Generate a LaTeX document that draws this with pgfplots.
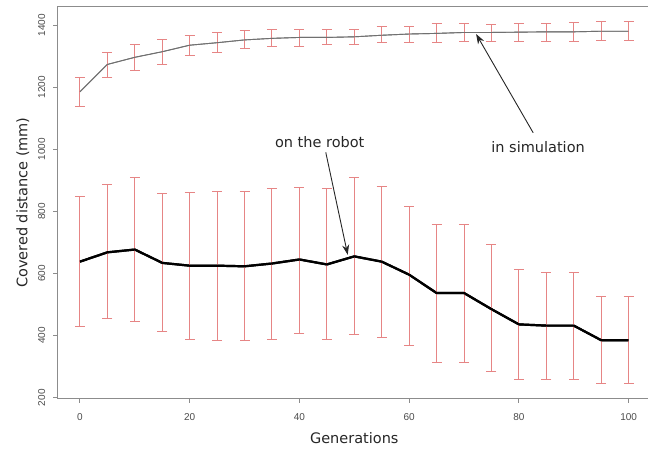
\documentclass[border=0pt]{standalone}
\usepackage{pgfplots}
\pgfplotsset{compat=1.18}
\usepackage{pgfplotstable}
\usepackage{fontspec}
\setmainfont{DejaVu Sans}
\newfontfamily\tickfont{Liberation Sans}
\usetikzlibrary{arrows.meta}

\definecolor{errred}{HTML}{E68585}
\definecolor{simgray}{HTML}{707070}
\definecolor{framegray}{HTML}{8C8C8C}

% generation, mean, upper end, lower end of the bar
\pgfplotstableread{
x    y     top   bot
0    1185  1230  1137
5    1273  1312  1230
10   1296  1337  1254
15   1314  1354  1274
20   1335  1367  1303
25   1343  1375  1311
30   1352  1381  1325
35   1357  1386  1330
40   1360  1386  1332
45   1360  1386  1336
50   1362  1387  1336
55   1367  1394  1343
60   1371  1396  1343
65   1373  1405  1345
70   1376  1405  1346
75   1376  1403  1346
80   1377  1405  1348
85   1378  1405  1348
90   1378  1408  1348
95   1380  1410  1351
100  1380  1410  1351
}\simdata

\pgfplotstableread{
x    y    top  bot
0    638  848  430
5    668  885  455
10   677  910  445
15   634  859  413
20   625  862  387
25   625  863  385
30   623  863  384
35   632  873  387
40   645  876  407
45   629  872  387
50   655  908  404
55   638  880  395
60   596  815  368
65   537  759  314
70   537  759  314
75   485  692  285
80   436  612  259
85   432  602  259
90   432  602  259
95   385  527  246
100  385  527  246
}\robotdata

\begin{document}
\begin{tikzpicture}
\begin{axis}[
    scale only axis,
    width=592.6pt, height=391.3pt,
    xmin=-4, xmax=104,
    ymin=198, ymax=1458,
    xtick={0,20,...,100},
    ytick={200,400,...,1400},
    tick pos=left,
    tick align=outside,
    major tick length=4.5pt,
    axis line style={framegray, line width=1pt},
    tick style={framegray, line width=1pt},
    /pgf/number format/assume math mode=true,
    /pgf/number format/1000 sep={},
    tick label style={font=\tickfont\fontsize{10}{11}\selectfont, text=black!70},
    yticklabel style={rotate=90, anchor=south, inner sep=0pt},
    yticklabel shift=8pt,
    xticklabel style={anchor=north, inner sep=0pt},
    xticklabel shift=11pt,
    xlabel={Generations},
    ylabel={Covered distance (mm)},
    label style={font=\fontsize{14.5}{16}\selectfont, text=black!85},
    xlabel style={at={(axis description cs:0.5,-0.088)}, anchor=north, inner sep=0pt},
    ylabel style={at={(axis description cs:-0.048,0.5)}, anchor=south, inner sep=0pt},
    clip=false,
]
% simulation
\addplot[simgray, line width=0.9pt, mark=none,
    error bars/.cd, y dir=both, y explicit,
    error bar style={errred, line width=1pt},
    error mark options={errred, line width=1pt, mark size=5pt, rotate=90}]
  table[x=x, y=y, y error plus expr=\thisrow{top}-\thisrow{y},
        y error minus expr=\thisrow{y}-\thisrow{bot}] {\simdata};
\addplot[simgray, line width=0.9pt, mark=none] table[x=x, y=y] {\simdata};
% real robot
\addplot[black, line width=2.2pt, mark=none,
    error bars/.cd, y dir=both, y explicit,
    error bar style={errred, line width=1pt},
    error mark options={errred, line width=1pt, mark size=5pt, rotate=90}]
  table[x=x, y=y, y error plus expr=\thisrow{top}-\thisrow{y},
        y error minus expr=\thisrow{y}-\thisrow{bot}] {\robotdata};
\addplot[black, line width=2.2pt, mark=none] table[x=x, y=y] {\robotdata};

\node[font=\fontsize{14.5}{16}\selectfont, text=black!85] at (axis cs:43.7,1024) {on the robot};
\draw[black!85, line width=0.9pt, -{Stealth[length=10pt,width=7pt]}] (axis cs:44.8,990) -- (axis cs:48.8,660);
\node[font=\fontsize{14.5}{16}\selectfont, text=black!85] at (axis cs:83.5,1008) {in simulation};
\draw[black!85, line width=0.9pt, -{Stealth[length=10pt,width=7pt]}] (axis cs:82.6,1053) -- (axis cs:72.2,1371);
\end{axis}
\pgfresetboundingbox
\path (current axis.south west) ++(-58pt,-50.7pt) rectangle ++(648pt,449pt);
\end{tikzpicture}
\end{document}
